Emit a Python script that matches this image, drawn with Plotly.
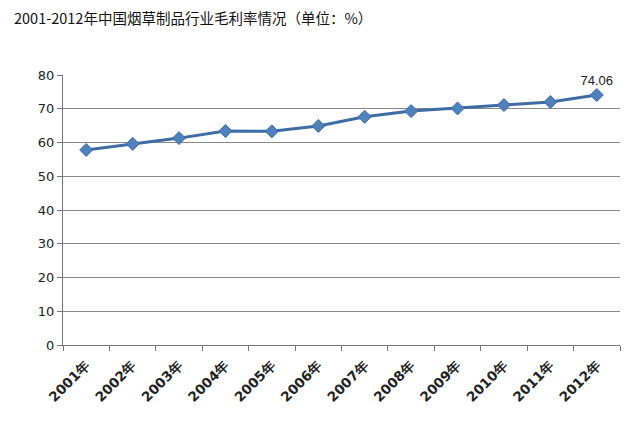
import plotly.graph_objects as go

years = ["2001年", "2002年", "2003年", "2004年", "2005年", "2006年",
         "2007年", "2008年", "2009年", "2010年", "2011年", "2012年"]
margin_rate = [57.8, 59.6, 61.3, 63.4, 63.3, 64.9, 67.6, 69.3, 70.1, 71.1, 72.0, 74.06]
y_ticks = [0, 10, 20, 30, 40, 50, 60, 70, 80]
title_text = "2001-2012年中国烟草制品行业毛利率情况（单位：%）"

labels = [""] * (len(margin_rate) - 1) + [f"{margin_rate[-1]:.2f}"]

fig = go.Figure()
fig.add_trace(go.Scatter(
    x=years, y=margin_rate, mode="lines+markers+text",
    line=dict(color="#3E6DA6", width=3),
    marker=dict(symbol="diamond", size=10, color="#4F81BD",
                line=dict(color="#3E6DA6", width=1)),
    text=labels, textposition="top center",
    textfont=dict(family="Liberation Sans, Arial", size=13, color="#222"),
    cliponaxis=False, showlegend=False,
))

fig.update_layout(
    width=640, height=432,
    margin=dict(l=63, r=20, t=75, b=87),
    paper_bgcolor="white", plot_bgcolor="white",
    annotations=[dict(text=title_text, x=-51/557, y=1 + 70/270,
                      xref="paper", yref="paper",
                      xanchor="left", yanchor="top", showarrow=False,
                      font=dict(family="Noto Sans CJK SC", size=14.5, color="#111"))],
)

fig.update_xaxes(
    type="category", range=[-0.5, len(years) - 0.5],
    tickangle=-45, tickson="boundaries", ticks="outside", ticklen=5,
    tickcolor="#777", showline=True, linecolor="#777", linewidth=1,
    showgrid=False, ticklabelstandoff=6,
    tickfont=dict(family="DejaVu Sans", size=13.5, color="#222", weight="bold"),
)
fig.update_yaxes(
    range=[0, 80], tickvals=y_ticks, ticks="outside", ticklen=5,
    tickcolor="#777", showline=True, linecolor="#777", linewidth=1,
    showgrid=True, gridcolor="#8a8a8a", gridwidth=1, zeroline=False,
    tickfont=dict(family="DejaVu Sans", size=13, color="#222"),
)

fig.write_html("out.html")
